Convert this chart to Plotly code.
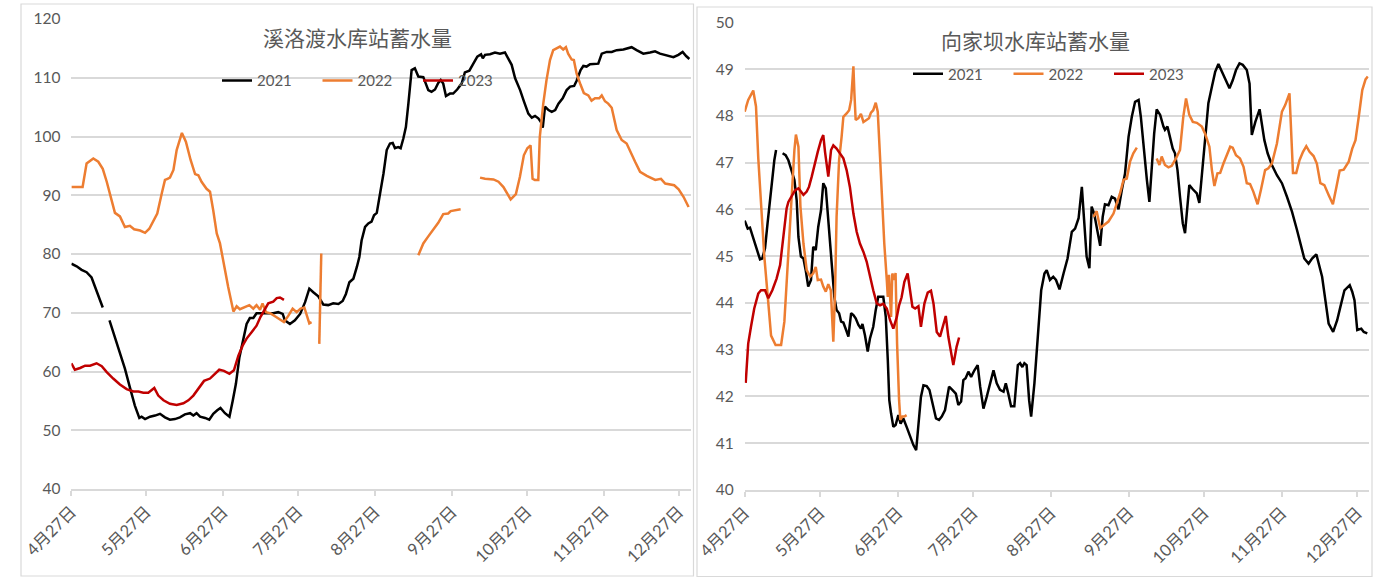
import plotly.graph_objects as go

# ---------------- data (x = days since 4月27日) ----------------
tick_days = [0, 30, 61, 91, 122, 153, 183, 214, 244]
tick_labels = ["4月27日", "5月27日", "6月27日", "7月27日", "8月27日",
               "9月27日", "10月27日", "11月27日", "12月27日"]
years = ["2021", "2022", "2023"]
colors = {"2021": "#000000", "2022": "#ED7D31", "2023": "#C00000"}

# 溪洛渡 (left)
xld_2021 = [(0, 78.35), (2.1, 77.9), (4.1, 77.3), (6.1, 76.9), (8.1, 76.0), (9.5, 74.4), (11.2, 72.4), (12.6, 70.9), None,
            (15.3, 68.7), (17.5, 65.9), (19.5, 63.0), (21.5, 60.5), (23.5, 57.3), (25.5, 54.2), (27.3, 52.1), (28.2, 52.3),
            (29.6, 51.9), (31.6, 52.3), (33.6, 52.5), (35.6, 52.8), (37.6, 52.2), (39.6, 51.8), (41.6, 51.9), (43.6, 52.2),
            (45.6, 52.7), (47.7, 52.9), (49, 52.5), (50.3, 52.9), (51.7, 52.3), (53.7, 52.1), (55.4, 51.8), (57, 52.8),
            (58.6, 53.4), (59.9, 53.8), (61.7, 52.9), (63.5, 52.3), (64.8, 55.0), (66.1, 57.9), (67.5, 62.4), (69.1, 65.9),
            (70.4, 68.1), (71.7, 69.1), (73.1, 69.1), (74.4, 69.9), (76.4, 69.9), (78.4, 69.8), (81.1, 69.9), (83.1, 70.1),
            (84.9, 69.8), (85.8, 68.7), (87.8, 68.1), (89.8, 68.7), (91.9, 69.8), (93.9, 71.8), (95.6, 74.1), (97.2, 73.5),
            (99.2, 72.8), (101.2, 71.4), (103.2, 71.3), (105.2, 71.6), (107.3, 71.5), (109, 72.0), (110.3, 73.2),
            (111.7, 75.2), (113.3, 75.8), (114.7, 77.8), (115.7, 79.5), (116.6, 82.3), (118, 84.6), (119.3, 85.2),
            (120.6, 85.5), (121.6, 86.6), (122.7, 87.0), (123.7, 89.5), (125.4, 93.7), (126.7, 97.7), (128, 98.8),
            (129.1, 98.9), (130, 98.0), (131.3, 98.2), (132.3, 98.0), (133.4, 99.7), (134.4, 101.6), (135.4, 105.6),
            (136.7, 111.3), (138, 111.6), (139.4, 110.2), (141.4, 110.1), (142.4, 109.0), (143.4, 107.9), (144.7, 107.6),
            (146.1, 108.0), (147.4, 109.1), (148.4, 109.6), (149.4, 109.0), (150.5, 106.9), (152.1, 107.3), (153.4, 107.3),
            (155, 108.0), (156.8, 109.0), (158.1, 110.9), (159.9, 111.2), (161.5, 112.4), (163.1, 113.6), (164.6, 114.0),
            (165.3, 113.3), (166.2, 113.9), (168.2, 114.0), (170.2, 114.3), (172.2, 114.1), (174.2, 114.3), (175.2, 113.6),
            (176.9, 112.2), (178.3, 109.9), (180.3, 107.9), (181.9, 105.9), (183.6, 103.9), (185, 103.2), (186.3, 103.5),
            (187.6, 103.1), (188.6, 102.5), (189.4, 101.5), (190.3, 105.1), (191.7, 104.5), (193, 104.2), (194.4, 104.5),
            (195.7, 105.6), (197.4, 106.5), (199, 107.9), (200.4, 108.5), (202, 108.6), (203, 109.5), (204.6, 111.3),
            (205.7, 112.0), (207, 111.9), (208.4, 112.3), (210, 112.4), (211.7, 112.4), (213.1, 114.1), (215.1, 114.4),
            (217.1, 114.4), (219.1, 114.7), (221.8, 114.8), (225.1, 115.2), (227.1, 114.7), (229.8, 114.1), (232.5, 114.3),
            (234.5, 114.5), (236.5, 114.1), (239.2, 113.8), (241.9, 113.5), (243.9, 113.9), (245.6, 114.4), (247, 113.7),
            (248.3, 113.2)]

xld_2022 = [(0, 91.4), (4.5, 91.4), (6.1, 95.4), (8.8, 96.25), (10.8, 95.7), (12.6, 94.5), (14.2, 92.3), (16.2, 88.9),
            (17.5, 87.0), (19.5, 86.4), (21.5, 84.6), (23.5, 84.8), (25.2, 84.2), (27.6, 84.0), (29.6, 83.6), (31.3, 84.3),
            (33, 85.7), (34.5, 86.9), (36.3, 90.3), (37.6, 92.6), (38.6, 92.8), (39.6, 93.0), (41, 94.3), (42.3, 97.7),
            (44.4, 100.6), (46, 99.1), (47.9, 96.0), (49.7, 93.6), (51, 93.4), (52.3, 92.3), (54.3, 91.1), (55.7, 90.6),
            (57, 87.4), (58.4, 83.5), (59.7, 81.8), (61.7, 77.2), (63, 74.4), (65.1, 70.2), (66.4, 71.1), (67.7, 70.6),
            (69.7, 70.9), (71.5, 71.3), (73.1, 70.7), (74.4, 71.3), (75.8, 70.5), (76.8, 71.6), (78.2, 70.1), (80, 69.9),
            (81.8, 69.4), (83.8, 68.8), (85.4, 68.4), (87.2, 69.5), (88.9, 70.7), (90.5, 70.1), (92.1, 70.7), (93.6, 70.9),
            (94.8, 69.3), (95.6, 68.2), (96.5, 68.4), None,
            (99.6, 64.7), (100.4, 80.1), None,
            (139.4, 79.8), (141.4, 81.8), (143.4, 83.0), (145.4, 84.1), (147.4, 85.3), (149.4, 86.8), (151.4, 86.9),
            (152.4, 87.3), (154.1, 87.4), (156.4, 87.6), None,
            (164.2, 93.0), (166.2, 92.8), (169.6, 92.7), (171.6, 92.3), (173.6, 91.4), (175.2, 90.3), (176.5, 89.3),
            (178.6, 90.2), (180.2, 93.1), (181.8, 96.8), (183.2, 98.0), (184.5, 98.5), (185.3, 92.8), (186.2, 92.6),
            (187.6, 92.6), (188.2, 99.9), (188.9, 103.1), (189.6, 105.6), (190.9, 109.6), (192.3, 113.0), (193.6, 114.7),
            (194.9, 115.0), (196.3, 115.3), (197.6, 114.8), (198.7, 115.2), (199.6, 114.1), (201, 113.1), (201.9, 113.0),
            (203, 110.7), (204.6, 108.8), (205.9, 107.4), (207.7, 107.0), (209, 106.1), (210.4, 106.5), (212.1, 106.5),
            (213.1, 107.0), (214.4, 106.0), (215.7, 105.6), (217.1, 104.9), (219.1, 101.1), (221.1, 99.4), (223.1, 98.8),
            (224.5, 97.4), (226.5, 95.7), (228.5, 94.0), (231.2, 93.3), (234.6, 92.6), (236.9, 92.8), (238.6, 92.0),
            (240.6, 91.9), (242.2, 91.7), (244, 91.0), (246, 89.7), (248, 88.0)]

xld_2023 = [(0, 61.4), (1.4, 60.3), (3.5, 60.6), (5.5, 61.0), (7.5, 61.0), (10.1, 61.4), (12.2, 60.9), (14.2, 59.9),
            (16.8, 58.8), (19.5, 57.8), (22.2, 57.0), (24.9, 56.6), (26.9, 56.6), (28.9, 56.4), (30.9, 56.4), (31.9, 56.8),
            (33.3, 57.2), (34.9, 55.9), (37, 55.1), (39.6, 54.5), (42.3, 54.3), (45, 54.6), (47, 55.1), (49, 55.9),
            (51, 57.0), (53.3, 58.4), (55.7, 58.8), (57.7, 59.6), (59.4, 60.3), (61.3, 60.1), (63.5, 59.6), (65.3, 60.2),
            (67.1, 62.7), (68.8, 64.4), (70.4, 65.6), (72.4, 66.7), (74.4, 67.8), (76, 69.3), (77.8, 70.7), (79.1, 71.6),
            (81.1, 71.9), (82.5, 72.5), (83.8, 72.6), (85.4, 72.2)]

# 向家坝 (right)
xjb_2021 = [(0, 45.76), (1.2, 45.59), (2.1, 45.61), (3.4, 45.38), (4.8, 45.17), (6.1, 44.93), (7, 44.95), (8.1, 45.17),
            (9.1, 45.70), (10.5, 46.48), (11.8, 47.05), (12.5, 47.27), None,
            (15.1, 47.20), (16.3, 47.16), (17.4, 47.05), (18.4, 46.88), (19.8, 46.63), (20.7, 46.20), (21.4, 45.41),
            (22.4, 44.99), (23.4, 44.95), (24.3, 44.70), (25.3, 44.35), (26.4, 44.49), (27.3, 45.20), (28.3, 45.13),
            (29.3, 45.63), (30.4, 45.98), (31.3, 46.56), (32.3, 46.45), (33.3, 45.77), (34.6, 44.84), (35.7, 44.13),
            (36.6, 43.85), (37.6, 43.78), (38.4, 43.60), (39.3, 43.58), (40.4, 43.42), (41.3, 43.28), (42.4, 43.78),
            (43.3, 43.74), (44.2, 43.67), (45.3, 43.53), (46.3, 43.45), (46.9, 43.55), (47.9, 43.31), (49, 42.96),
            (49.9, 43.24), (51.2, 43.49), (52.2, 43.85), (53.2, 44.13), (55.2, 44.13), (56.2, 43.70), (57, 42.78),
            (57.6, 41.92), (58.3, 41.64), (59.2, 41.35), (60.1, 41.39), (61.2, 41.60), (62.1, 41.42), (63.2, 41.53),
            (64.5, 41.35), (65.9, 41.14), (67.2, 40.96), (68.3, 40.85), (69.2, 41.42), (70.2, 41.99), (71.2, 42.24),
            (72.5, 42.22), (73.6, 42.14), (74.8, 41.85), (76.2, 41.53), (77.4, 41.50), (78.5, 41.57), (79.8, 41.71),
            (81.4, 42.21), (82.7, 42.14), (84.1, 42.06), (85.1, 41.82), (86.2, 41.89), (87.1, 42.35), (88, 42.39),
            (89.1, 42.53), (90.2, 42.42), (91.5, 42.56), (92.8, 42.67), (93.8, 42.21), (95.1, 41.74), (96.4, 41.99),
            (97.7, 42.28), (99.1, 42.56), (100.4, 42.28), (101.7, 42.14), (103.1, 42.10), (104, 42.28), (105, 42.06),
            (106.1, 41.79), (107.4, 41.79), (108.8, 42.67), (109.7, 42.71), (110.6, 42.63), (111.4, 42.71),
            (112.3, 42.67), (113.3, 41.92), (114.1, 41.57), (115.4, 42.28), (116.7, 43.21), (118.1, 44.27),
            (119.4, 44.63), (120.3, 44.70), (121.6, 44.49), (122.9, 44.56), (124, 44.49), (125.4, 44.29), (127, 44.63),
            (128.6, 44.95), (130.3, 45.52), (131.6, 45.59), (133, 45.81), (134.3, 46.48), (135.2, 45.77), (136.2, 44.99),
            (137.3, 44.74), (138.2, 46.06), (139.2, 45.91), (140.5, 45.52), (141.6, 45.22), (142.6, 45.84),
            (143.5, 46.11), (144.9, 46.09), (146.2, 46.27), (147.5, 46.23), (148.9, 46.00), (150.2, 46.41),
            (151.5, 46.77), (152.9, 47.55), (154.2, 47.98), (155.5, 48.30), (156.9, 48.34), (157.8, 47.98),
            (158.8, 47.34), (160.2, 46.63), (161.2, 46.16), (162.1, 46.91), (163.1, 47.62), (164.1, 48.14),
            (165.5, 48.02), (166.8, 47.77), (167.4, 47.70), (168.4, 47.77), (169.4, 47.52), (170.5, 47.30),
            (171.4, 47.20), (172.4, 46.84), (173.4, 46.27), (174.5, 45.70), (175.4, 45.49), (176.3, 46.06),
            (177.1, 46.52), (178.5, 46.43), (180.1, 46.34), (181.1, 46.14), (182.1, 46.70), (183.4, 47.55),
            (184.7, 48.27), (186.1, 48.62), (187.4, 48.94), (188.7, 49.11), (190.1, 48.94), (191.4, 48.78),
            (193.1, 48.59), (194.4, 48.76), (195.7, 48.98), (197.1, 49.12), (198.4, 49.09), (200, 48.98),
            (201.1, 48.69), (202, 47.59), (203.4, 47.87), (205.1, 48.14), (206, 47.84), (207, 47.48), (208.3, 47.20),
            (210, 46.95), (212, 46.73), (214, 46.56), (216, 46.27), (218, 45.95), (220, 45.56), (221.6, 45.20),
            (222.9, 44.95), (224.6, 44.84), (226, 44.95), (227.7, 45.04), (228.6, 44.84), (230, 44.56), (231.3, 44.06),
            (232.6, 43.56), (234.4, 43.38), (236, 43.63), (237.3, 43.92), (238.9, 44.27), (241, 44.38), (242, 44.24),
            (242.9, 44.06), (244, 43.42), (245.6, 43.45), (246.6, 43.38), (248, 43.35)]

xjb_2022 = [(0, 48.09), (1.4, 48.34), (3.4, 48.54), (4.5, 48.2), (5.4, 47.1), (6.5, 46.0), (7.8, 45.0), (9.4, 44.0),
            (10.5, 43.3), (12.3, 43.1), (14.5, 43.1), (15.8, 43.6), (17.1, 44.8), (18.4, 46.2), (19.8, 47.27),
            (20.4, 47.6), (21.4, 47.34), (22.2, 46.06), (23.4, 45.27), (24.7, 44.7), (26.1, 44.56), (27.3, 44.63),
            (28.3, 44.77), (29.1, 44.49), (30.4, 44.5), (31.3, 44.35), (32.3, 44.24), (33.3, 44.4), (34.3, 44.27),
            (35.3, 43.17), (36, 44.27), (36.6, 45.84), (37.6, 47.05), (38.6, 47.55), (39.3, 47.98), (40.6, 48.05),
            (41.6, 48.12), (42.4, 48.34), (42.9, 48.84), (43.3, 49.06), (43.7, 48.48), (44.2, 47.91), (45.3, 47.95),
            (46.3, 48.04), (47.3, 47.87), (48.6, 47.91), (49.5, 47.95), (50.3, 48.07), (51.2, 48.12), (52.2, 48.28),
            (53, 48.09), (53.9, 47.13), (54.8, 46.06), (55.6, 45.27), (56.6, 44.49), (57, 44.13), (57.5, 44.6),
            (58.3, 43.7), (58.8, 44.63), (59.6, 44.49), (60.1, 44.64), (60.7, 43.13), (61.5, 41.92), (62, 41.5),
            (62.8, 41.57), (63.6, 41.57), (64.5, 41.6), None,
            (138.9, 45.84), (140.2, 45.96), (141.6, 45.6), (142.9, 45.66), (144.9, 45.74), (146.9, 45.91),
            (148.2, 46.11), (149.5, 46.34), (150.9, 46.63), (152.2, 46.66), (153.5, 47.02), (154.8, 47.2),
            (156.2, 47.32), None,
            (164.1, 47.09), (165.2, 46.95), (166.1, 47.13), (167.4, 46.95), (168.8, 46.9), (170.1, 46.93),
            (171.8, 47.09), (173.4, 47.27), (174.7, 47.98), (175.8, 48.37), (177.1, 48.02), (178.5, 47.87),
            (180.1, 47.85), (182.1, 47.77), (183.4, 47.62), (185.1, 47.34), (186.1, 46.84), (187.1, 46.5),
            (188.3, 46.77), (189.4, 46.78), (190.7, 46.98), (192, 47.16), (193.4, 47.34), (194.4, 47.32),
            (195.7, 47.16), (197.3, 47.09), (198.7, 46.91), (200, 46.56), (201.3, 46.54), (202.6, 46.38),
            (204.3, 46.11), (205.6, 46.41), (207.3, 46.84), (208.6, 46.88), (210, 46.98), (212, 47.41), (214, 48.09),
            (215.3, 48.23), (217, 48.48), (218.4, 46.78), (219.7, 46.78), (221, 47.05), (222.4, 47.23), (223.7, 47.35),
            (225, 47.23), (226.6, 47.14), (227.9, 46.98), (229.3, 46.56), (230.9, 46.52), (232.6, 46.31),
            (234.3, 46.11), (235.7, 46.48), (237, 46.83), (238.6, 46.85), (240.6, 47.02), (242, 47.3), (243.3, 47.48),
            (244.6, 47.98), (246, 48.55), (247.3, 48.78), (248.2, 48.84)]

xjb_2023 = [(0.4, 42.29), (1.4, 43.13), (2.5, 43.49), (3.8, 43.88), (5.4, 44.2), (6.5, 44.27), (8.1, 44.27), (9.4, 44.1),
            (11, 44.27), (12.7, 44.52), (14.1, 44.81), (15.4, 45.41), (16.7, 46.02), (17.4, 46.16), (18.7, 46.27),
            (20.1, 46.41), (21.4, 46.45), (22.4, 46.38), (23.4, 46.31), (24.7, 46.38), (25.6, 46.48), (26.7, 46.7),
            (27.7, 46.95), (29.1, 47.23), (30.4, 47.48), (31.3, 47.59), (32, 47.23), (33.3, 46.7), (34.4, 47.27),
            (35.3, 47.37), (36.6, 47.3), (38, 47.2), (39.3, 47.09), (40.6, 46.84), (41.9, 46.48), (43.3, 45.91),
            (44.6, 45.52), (45.9, 45.27), (47.3, 45.09), (48.6, 44.88), (49.9, 44.56), (51.2, 44.27), (52.6, 43.99),
            (53.9, 43.95), (55.2, 43.98), (56.6, 43.88), (57.9, 43.63), (59.2, 43.45), (60.6, 43.7), (61.5, 43.95),
            (62.5, 44.12), (63.6, 44.45), (64.9, 44.63), (65.9, 44.27), (66.8, 43.92), (67.9, 43.88), (69.2, 43.93),
            (70.2, 43.49), (71.6, 43.99), (72.9, 44.22), (74.2, 44.26), (75.2, 43.99), (76.5, 43.38), (77.8, 43.28),
            (78.7, 43.45), (80.1, 43.72), (81.1, 43.28), (82.2, 42.96), (83.1, 42.67), (84.4, 43.06), (85.4, 43.26)]

left_series = {"2021": xld_2021, "2022": xld_2022, "2023": xld_2023}
right_series = {"2021": xjb_2021, "2022": xjb_2022, "2023": xjb_2023}


def split(points):
    xs = [None if p is None else p[0] for p in points]
    ys = [None if p is None else p[1] for p in points]
    return xs, ys


fig = go.Figure()
for yr in years:
    xs, ys = split(left_series[yr])
    fig.add_trace(go.Scatter(x=xs, y=ys, mode="lines", name=yr, legend="legend",
                             line=dict(color=colors[yr], width=2.5), connectgaps=False,
                             xaxis="x", yaxis="y"))
for yr in years:
    xs, ys = split(right_series[yr])
    fig.add_trace(go.Scatter(x=xs, y=ys, mode="lines", name=yr, legend="legend2",
                             line=dict(color=colors[yr], width=2.5), connectgaps=False,
                             xaxis="x2", yaxis="y2"))

W, H = 1391, 581
grid = "#d9d9d9"
txt = "#595959"
font_fam = "Lato, 'Noto Sans CJK SC', sans-serif"

xcommon = dict(tickvals=tick_days, ticktext=tick_labels, tickangle=-45, showgrid=False,
               showline=True, linecolor=grid, linewidth=1.5, ticks="outside", ticklen=5,
               tickcolor=grid, tickwidth=1.5, zeroline=False, automargin=False,
               tickfont=dict(size=16.5, color=txt, family=font_fam))
ycommon = dict(showgrid=True, gridcolor=grid, gridwidth=1.5, showline=False, zeroline=False,
               ticks="", ticklabelstandoff=10, automargin=False,
               tickfont=dict(size=15.5, color=txt, family=font_fam))

legend_common = dict(orientation="h", xanchor="left", yanchor="middle",
                     bgcolor="rgba(0,0,0,0)", font=dict(size=15, color=txt, family=font_fam),
                     entrywidth=55.5, entrywidthmode="pixels", tracegroupgap=0)

fig.update_layout(
    width=W, height=H, margin=dict(l=0, r=0, t=0, b=0, pad=0, autoexpand=False),
    paper_bgcolor="white", plot_bgcolor="white",
    font=dict(family=font_fam, color=txt),
    showlegend=True,
    xaxis=dict(domain=[71.4 / W, 690.6 / W], range=[0, 248.8], anchor="y", **xcommon),
    yaxis=dict(domain=[(H - 489) / H, (H - 19) / H], range=[40, 120], dtick=10, anchor="x", **ycommon),
    xaxis2=dict(domain=[744.7 / W, 1368.8 / W], range=[0, 248.6], anchor="y2", **xcommon),
    yaxis2=dict(domain=[(H - 490) / H, (H - 22.3) / H], range=[40, 50], dtick=1, anchor="x2", **ycommon),
    legend=dict(x=217 / W, y=(H - 80.7) / H, **legend_common),
    legend2=dict(x=908 / W, y=(H - 74) / H, **legend_common),
    annotations=[
        dict(text="溪洛渡水库站蓄水量", x=357 / W, y=(H - 37) / H, xref="paper", yref="paper",
             showarrow=False, xanchor="center", yanchor="middle",
             font=dict(size=21, color=txt, family="'Noto Sans CJK SC', sans-serif")),
        dict(text="向家坝水库站蓄水量", x=1035 / W, y=(H - 40) / H, xref="paper", yref="paper",
             showarrow=False, xanchor="center", yanchor="middle",
             font=dict(size=21, color=txt, family="'Noto Sans CJK SC', sans-serif")),
    ],
    shapes=[
        dict(type="rect", xref="paper", yref="paper", x0=21 / W, x1=693.5 / W, y0=(H - 576) / H, y1=(H - 4) / H,
             line=dict(color=grid, width=1.2), fillcolor="rgba(0,0,0,0)", layer="below"),
        dict(type="rect", xref="paper", yref="paper", x0=697 / W, x1=1372 / W, y0=(H - 576.5) / H, y1=(H - 7) / H,
             line=dict(color=grid, width=1.2), fillcolor="rgba(0,0,0,0)", layer="below"),
    ],
)

fig.write_html("out.html")
